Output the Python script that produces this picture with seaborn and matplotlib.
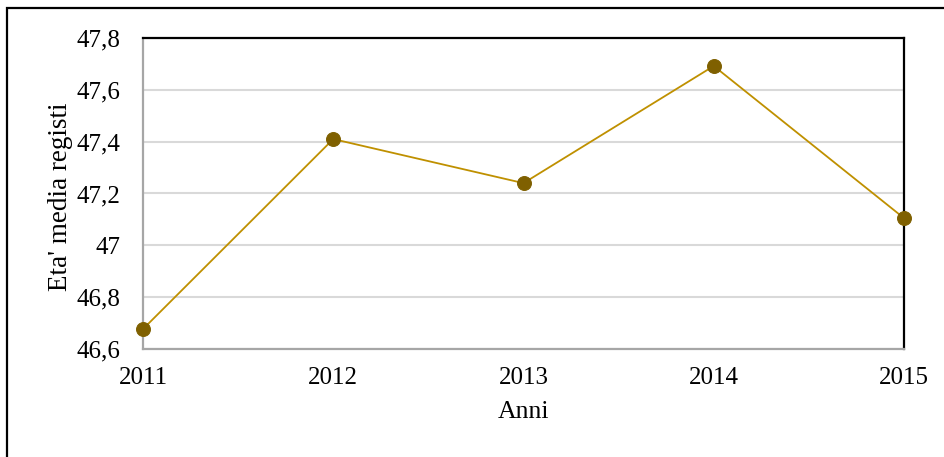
import matplotlib
matplotlib.use("Agg")
import matplotlib.pyplot as plt
import seaborn as sns
import pandas as pd
from matplotlib.patches import Rectangle
from matplotlib.ticker import FixedLocator, FixedFormatter

# Average age of directors per year
anni = [2011, 2012, 2013, 2014, 2015]
eta_media = [46.677, 47.41, 47.24, 47.692, 47.105]
y_ticks = [46.6, 46.8, 47.0, 47.2, 47.4, 47.6, 47.8]
y_tick_labels = ["46,6", "46,8", "47", "47,2", "47,4", "47,6", "47,8"]

sns.set_theme(style="white")
plt.rcParams["font.family"] = ["Liberation Serif", "DejaVu Serif"]

df = pd.DataFrame({"Anni": anni, "Eta": eta_media})

fig = plt.figure(figsize=(9.44, 4.57), dpi=100)
ax = fig.add_axes([143 / 944, 1 - 349 / 457, (904 - 143) / 944, (349 - 38) / 457])

sns.lineplot(data=df, x="Anni", y="Eta", ax=ax, color="#BF9000", linewidth=1.3,
             marker="o", markersize=10, markerfacecolor="#7F6000",
             markeredgecolor="#7F6000", zorder=3, clip_on=False)

ax.set_xlim(anni[0], anni[-1])
ax.set_ylim(y_ticks[0], y_ticks[-1])
ax.xaxis.set_major_locator(FixedLocator(anni))
ax.set_xticklabels([str(a) for a in anni])
ax.yaxis.set_major_locator(FixedLocator(y_ticks))
ax.yaxis.set_major_formatter(FixedFormatter(y_tick_labels))

ax.grid(axis="y", color="#D9D9D9", linewidth=1.5)
ax.grid(axis="x", visible=False)
ax.set_axisbelow(True)

ax.tick_params(axis="both", length=0, labelsize=18, colors="black")
ax.tick_params(axis="y", pad=16)
ax.tick_params(axis="x", pad=13)

for side in ("left", "bottom"):
    ax.spines[side].set_color("#A6A6A6")
    ax.spines[side].set_linewidth(1.6)
for side in ("top", "right"):
    ax.spines[side].set_color("black")
    ax.spines[side].set_linewidth(1.6)

ax.set_xlabel("Anni", fontsize=18.5, color="black")
ax.set_ylabel("Eta' media registi", fontsize=19.5, color="black")
ax.xaxis.set_label_coords(0.5, -0.203)
ax.xaxis.label.set_va("center")
ax.yaxis.set_label_coords(-0.109, 0.49)
ax.yaxis.label.set_va("center")

# outer frame around the chart
fig.patches.append(Rectangle((7 / 944, -0.1), 1.2, 1 - 8 / 457 + 0.1,
                             transform=fig.transFigure, fill=False,
                             edgecolor="black", linewidth=1.6, clip_on=False))

fig.savefig("out.png", dpi=100)
